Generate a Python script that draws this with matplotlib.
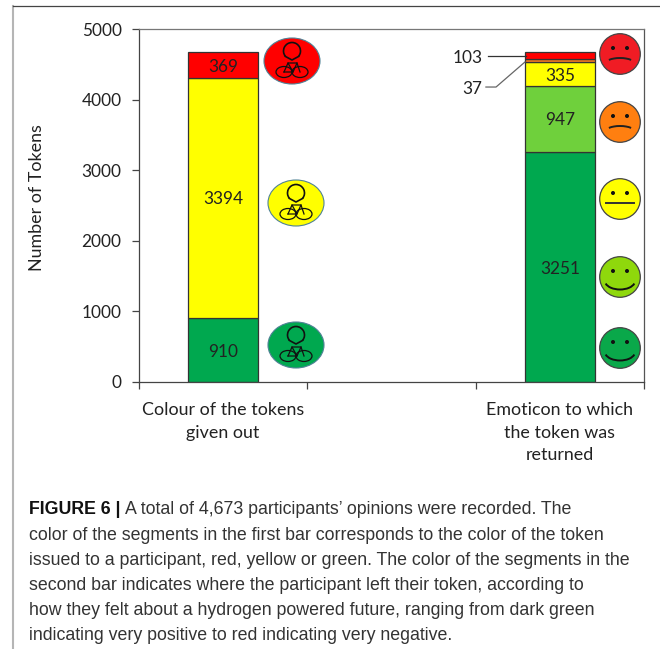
import numpy as np
import matplotlib
matplotlib.use('Agg')
import matplotlib.pyplot as plt
from matplotlib.patches import Circle, Ellipse, Arc

plt.rcParams['font.family'] = ['Lato', 'DejaVu Sans']

W, H = 660, 649

# values, bottom segment first
token_values = [910, 3394, 369]
token_colors = ['#00a84f', '#ffff00', '#ff0000']
emoticon_values = [3251, 947, 335, 37, 103]
emoticon_colors = ['#00a84f', '#6fd03c', '#ffff00', '#f47a20', '#ff0000']
category_labels = ['Colour of the tokens\ngiven out', 'Emoticon to which\nthe token was\nreturned']
yticks = [0, 1000, 2000, 3000, 4000, 5000]
bar_positions = [0.5, 2.5]

caption_lines = [
    'A total of 4,673 participants\u2019 opinions were recorded. The',
    'color of the segments in the first bar corresponds to the color of the token',
    'issued to a participant, red, yellow or green. The color of the segments in the',
    'second bar indicates where the participant left their token, according to',
    'how they felt about a hydrogen powered future, ranging from dark green',
    'indicating very positive to red indicating very negative.',
]

FS = 12.4
TXT = '#222222'

fig = plt.figure(figsize=(W / 100, H / 100), dpi=100)
L, R, T, B = 139, 644, 29, 382
ax = fig.add_axes([L / W, 1 - B / H, (R - L) / W, (B - T) / H])
ax.set_xlim(0, 3)
ax.set_ylim(0, 5000)


def stacked(x, values, colors):
    bottom = 0
    for v, c in zip(values, colors):
        ax.bar(x, v, 0.415, bottom=bottom, color=c, edgecolor='#333333', linewidth=0.9, zorder=2)
        bottom += v


stacked(bar_positions[0], token_values, token_colors)
stacked(bar_positions[1], emoticon_values, emoticon_colors)

# segment labels
for v, y in zip(token_values, [425, 2585, 4462]):
    ax.text(bar_positions[0], y, str(v), ha='center', va='center', fontsize=FS, color=TXT, zorder=3)
for v, y in zip(emoticon_values[:3], [1595, 3710, 4335]):
    ax.text(bar_positions[1], y, str(v), ha='center', va='center', fontsize=FS, color=TXT, zorder=3)

# callouts for the two thin segments
ax.plot([2.073, 2.299], [4618, 4618], color='#333333', lw=0.9, zorder=3)
ax.plot([2.061, 2.121, 2.293], [4178, 4178, 4533], color='#666666', lw=0.9, zorder=3)
ax.text(2.04, 4590, '103', ha='right', va='center', fontsize=FS, color=TXT)
ax.text(2.04, 4150, '37', ha='right', va='center', fontsize=FS, color=TXT)

ax.set_xticks([0, 1, 2, 3])
ax.set_xticklabels([])
ax.set_yticks(yticks)
ax.tick_params(axis='y', labelsize=FS, length=5, width=0.9, color='#444444', labelcolor=TXT, pad=7.5)
ax.tick_params(axis='x', length=5, width=0.9, color='#444444')
for s in ax.spines.values():
    s.set_linewidth(0.9)
ax.spines['left'].set_color('#444444')
ax.spines['bottom'].set_color('#444444')
ax.spines['top'].set_color('#777777')
ax.spines['right'].set_color('#555555')

for x, label in zip(bar_positions, category_labels):
    ax.annotate(label, xy=(x, 0), xytext=(0, -14.5), textcoords='offset points',
                ha='center', va='top', fontsize=12.9, color=TXT, linespacing=1.5, annotation_clip=False)

fig.text(37 / W, 1 - 198 / H, 'Number of Tokens', rotation=90, ha='center', va='center', fontsize=12.9, color=TXT)

# icons are drawn on an overlay in pixel coordinates
ov = fig.add_axes([0, 0, 1, 1])
ov.set_xlim(0, W)
ov.set_ylim(H, 0)
ov.axis('off')
ov.patch.set_alpha(0)


def bike_token(cx, cy, color):
    ink = '#111111'
    ov.add_patch(Ellipse((cx, cy), 56, 46, fc=color, ec='#4f8296', lw=0.8))
    # balloon shape
    ov.add_patch(Arc((cx, cy - 10), 17, 17, theta1=140, theta2=400, color=ink, lw=1.2))
    ov.plot([cx - 6.5, cx, cx + 6.5], [cy - 4.5, cy - 1, cy - 4.5], color=ink, lw=1.2)
    # bicycle
    ov.add_patch(Ellipse((cx - 8, cy + 11), 16, 11, fc='none', ec=ink, lw=0.9))
    ov.add_patch(Ellipse((cx + 8, cy + 11), 16, 11, fc='none', ec=ink, lw=0.9))
    ov.plot([cx - 8, cx - 4, cx + 5, cx + 8], [cy + 11, cy + 2, cy + 2, cy + 11], color=ink, lw=0.9)
    ov.plot([cx - 8, cx + 1, cx + 5], [cy + 11, cy + 11, cy + 2], color=ink, lw=0.9)
    ov.plot([cx - 4, cx + 1], [cy + 2, cy + 11], color=ink, lw=0.9)


def face(cx, cy, color, mood):
    ov.add_patch(Circle((cx, cy), 20.3, fc=color, ec='#444444', lw=0.9))
    ov.add_patch(Circle((cx - 7, cy - 6), 2, fc='#111111', ec='none'))
    ov.add_patch(Circle((cx + 7, cy - 6), 2, fc='#111111', ec='none'))
    if mood == 'sad':
        ov.add_patch(Arc((cx, cy + 10), 30, 12, theta1=200, theta2=340, color='#222222', lw=1.4))
    elif mood == 'flat':
        ov.plot([cx - 14, cx + 14], [cy + 4, cy + 4], color='#333333', lw=1.4)
    else:
        ov.add_patch(Arc((cx, cy + 4), 30, 17, theta1=10, theta2=170, color='#111111', lw=1.4))


for cx, cy, c in zip([292, 296, 296], [61, 203, 345], ['#ff0000', '#ffff00', '#00a84f']):
    bike_token(cx, cy, c)

for cy, c, m in zip([54, 122, 199, 277, 348],
                    ['#f01c24', '#ff7f10', '#ffff00', '#8fd80c', '#0aa84a'],
                    ['sad', 'sad', 'flat', 'happy', 'happy']):
    face(620, cy, c, m)

# page decoration around the figure
ov.plot([13, 13], [6, 649], color='#b5b5b5', lw=1.5)
ov.plot([13, 660], [6, 6], color='#444444', lw=0.9)

# caption
cap_font = 'Liberation Sans'
t = ov.text(29, 510, 'FIGURE 6 | ', family=cap_font, fontweight='bold', fontsize=12.8, color='#111111', va='center')
ov.annotate(caption_lines[0], xy=(1, 0.5), xycoords=t, va='center', family=cap_font, fontsize=12.8, color='#333333')
for i, line in enumerate(caption_lines[1:], start=1):
    ov.text(29, 510 + i * 25.1, line, family=cap_font, fontsize=12.8, color='#333333', va='center')

fig.savefig('out.png', dpi=100)
